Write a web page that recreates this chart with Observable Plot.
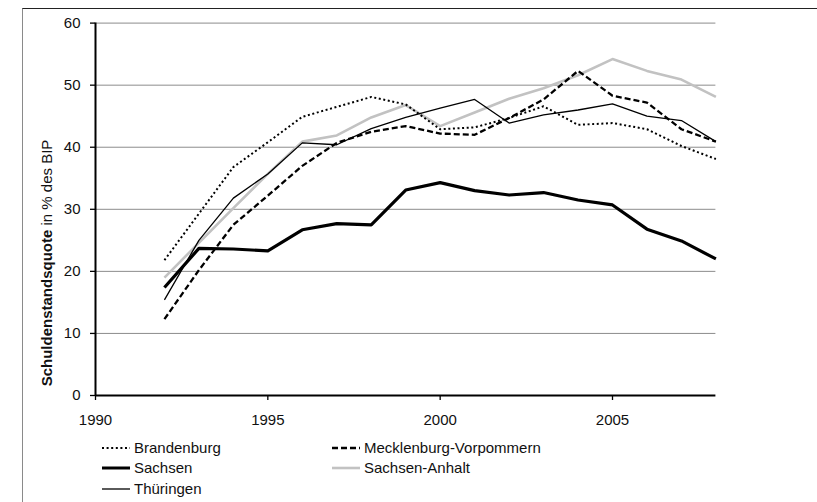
<!DOCTYPE html>
<html>
<head>
<meta charset="utf-8">
<script src="https://cdn.jsdelivr.net/npm/d3@7"></script>
<script src="https://cdn.jsdelivr.net/npm/@observablehq/plot@0.6"></script>
<style>
  html, body { margin: 0; padding: 0; background: #fff; }
  #wrap { position: relative; width: 817px; height: 502px; overflow: hidden; font-family: "Liberation Sans", Arial, Helvetica, sans-serif; }
  .frame { position: absolute; left: 22px; top: 8px; width: 900px; height: 600px; border-left: 1px solid #8a8a8a; border-top: 1px solid #222; }
  #chart { position: absolute; left: 0; top: 0; }
  .item { position: absolute; height: 18px; display: flex; align-items: center; font-size: 15px; color: #111; line-height: 18px; white-space: nowrap; }
  .item svg { margin-right: 4px; }
</style>
</head>
<body>
<div id="wrap">
  <div class="frame"></div>
  <div id="chart"></div>
  <div id="legend"></div>
</div>
<script>
const years = [1992, 1993, 1994, 1995, 1996, 1997, 1998, 1999, 2000, 2001, 2002, 2003, 2004, 2005, 2006, 2007, 2008];
const brandenburg = [21.8, 29.3, 36.8, 40.8, 44.9, 46.5, 48.1, 46.9, 42.9, 43.2, 44.7, 46.6, 43.6, 43.9, 42.9, 40.2, 38.1];
const mecklenburg = [12.3, 20.2, 27.5, 32.2, 37.0, 40.7, 42.5, 43.4, 42.2, 42.0, 44.7, 47.7, 52.3, 48.3, 47.2, 42.9, 40.9];
const sachsen = [17.4, 23.7, 23.6, 23.3, 26.7, 27.7, 27.5, 33.1, 34.3, 33.0, 32.3, 32.7, 31.5, 30.7, 26.8, 24.9, 22.0];
const sachsenAnhalt = [19.0, 24.6, 30.2, 35.7, 40.9, 41.9, 44.8, 46.8, 43.4, 45.6, 47.8, 49.5, 51.6, 54.2, 52.3, 50.9, 48.1];
const thueringen = [15.4, 25.0, 31.8, 35.7, 40.7, 40.4, 43.0, 44.8, 46.3, 47.7, 43.9, 45.2, 46.0, 47.0, 45.0, 44.3, 40.9];
const seriesNames = ["Brandenburg", "Mecklenburg-Vorpommern", "Sachsen", "Sachsen-Anhalt", "Thüringen"];
const yTicks = [0, 10, 20, 30, 40, 50, 60];
const xTicks = [1990, 1995, 2000, 2005];
const yTitleBold = "Schuldenstandsquote";
const yTitleRest = " in % des BIP";

const seriesValues = [brandenburg, mecklenburg, sachsen, sachsenAnhalt, thueringen];
const styles = {
  "Brandenburg": {stroke: "#000", strokeWidth: 2, strokeDasharray: "2,2.6"},
  "Mecklenburg-Vorpommern": {stroke: "#000", strokeWidth: 2.3, strokeDasharray: "6,3"},
  "Sachsen": {stroke: "#000", strokeWidth: 3.2, strokeDasharray: null},
  "Sachsen-Anhalt": {stroke: "#c2c2c2", strokeWidth: 2.6, strokeDasharray: null},
  "Thüringen": {stroke: "#000", strokeWidth: 1.3, strokeDasharray: null}
};
const drawOrder = ["Sachsen-Anhalt", "Brandenburg", "Mecklenburg-Vorpommern", "Thüringen", "Sachsen"];

const rows = seriesNames.map((name, k) => years.map((yr, i) => ({series: name, year: yr, value: seriesValues[k][i]})));
const byName = Object.fromEntries(seriesNames.map((n, k) => [n, rows[k]]));

const lineMarks = drawOrder.map(name => Plot.line(byName[name], {
  x: "year", y: "value",
  stroke: styles[name].stroke,
  strokeWidth: styles[name].strokeWidth,
  strokeDasharray: styles[name].strokeDasharray,
  strokeLinejoin: "round",
  strokeLinecap: "butt"
}));

const plot = Plot.plot({
  width: 817,
  height: 440,
  marginLeft: 95,
  marginRight: 101.6,
  marginTop: 22.6,
  marginBottom: 45,
  style: {fontFamily: "'Liberation Sans', Arial, Helvetica, sans-serif", fontSize: "15px", color: "#111", background: "transparent"},
  x: {domain: [1990, 2008]},
  y: {domain: [0, 60]},
  marks: [
    Plot.ruleY(yTicks.filter(d => d > 0), {stroke: "#8c8c8c", strokeWidth: 1}),
    Plot.axisY({ticks: yTicks, tickSize: 5, tickPadding: 10, tickFormat: "d", label: null, stroke: "#000", strokeWidth: 1.3}),
    Plot.axisX({ticks: xTicks, tickSize: 5, tickPadding: 14, tickFormat: "d", label: null, stroke: "#000", strokeWidth: 1.3}),
    ...lineMarks,
    Plot.ruleX([1990], {stroke: "#000", strokeWidth: 2}),
    Plot.ruleY([0], {stroke: "#000", strokeWidth: 2})
  ]
});
document.getElementById("chart").appendChild(plot);

// y-axis title with mixed weight
const svg = d3.select(plot);
const t = svg.append("text")
  .attr("transform", "translate(52,263) rotate(-90)")
  .attr("text-anchor", "middle")
  .attr("font-size", "15px")
  .attr("fill", "#111");
t.append("tspan").attr("font-weight", "bold").text(yTitleBold);
t.append("tspan").text(yTitleRest);

// legend
const legendPos = {
  "Brandenburg": [102, 439],
  "Mecklenburg-Vorpommern": [332, 439],
  "Sachsen": [102, 459],
  "Sachsen-Anhalt": [332, 459],
  "Thüringen": [102, 480]
};
const legend = d3.select("#legend");
seriesNames.forEach(name => {
  const [lx, ly] = legendPos[name];
  const it = legend.append("div").attr("class", "item").style("left", lx + "px").style("top", ly + "px");
  const s = it.append("svg").attr("width", 28).attr("height", 18);
  s.append("line").attr("x1", 0).attr("x2", 28).attr("y1", 9).attr("y2", 9)
    .attr("stroke", styles[name].stroke)
    .attr("stroke-width", name === "Sachsen" ? 3 : styles[name].strokeWidth)
    .attr("stroke-dasharray", styles[name].strokeDasharray);
  it.append("span").text(name);
});
</script>
</body>
</html>
